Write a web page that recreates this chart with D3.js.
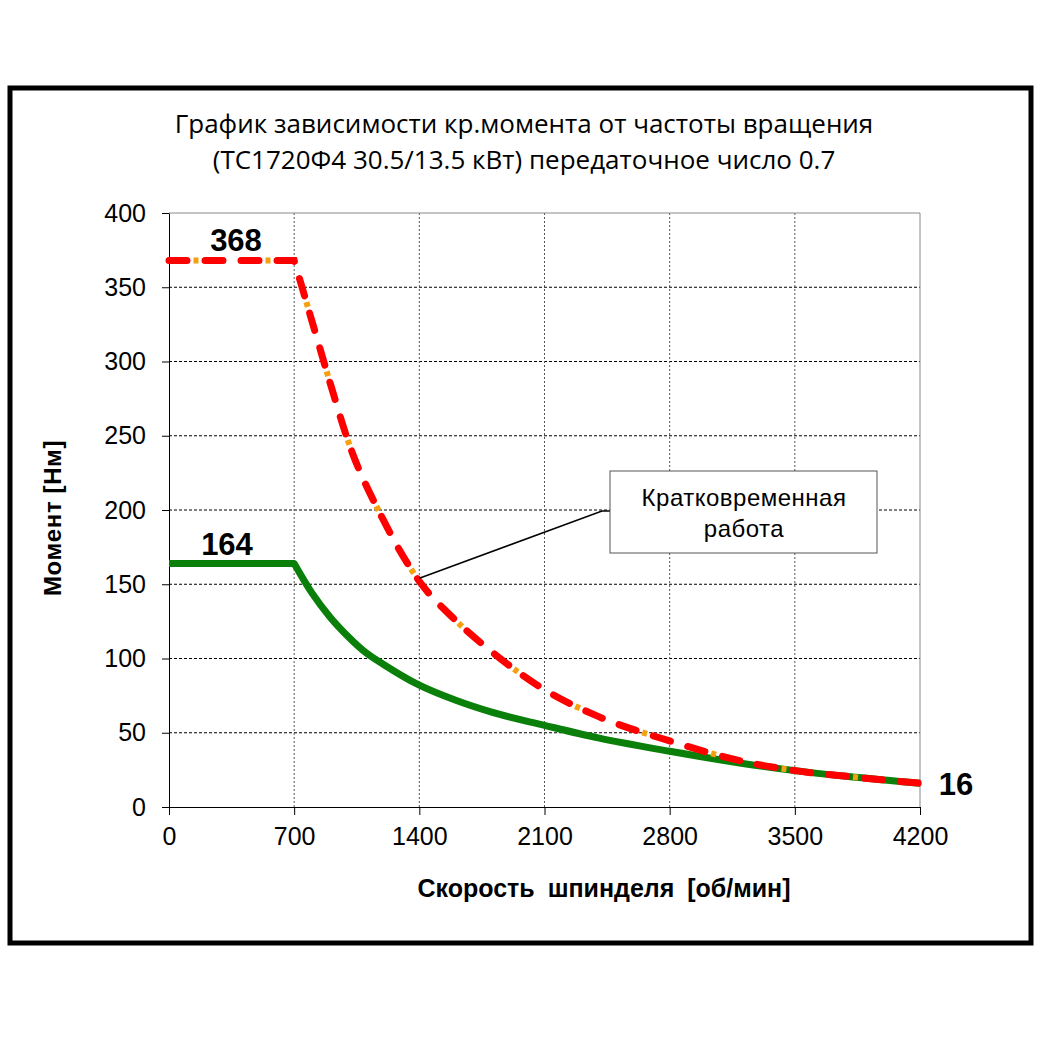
<!DOCTYPE html>
<meta charset="utf-8">
<style>
    body { margin: 0; background: #fff; }
    text { fill: #000; }
    .grid-h line { stroke: #000; stroke-width: 1; stroke-dasharray: 3,2; }
    .grid-v line { stroke: #555; stroke-width: 1; stroke-dasharray: 2,2; }
    .axis text { font-family: "Liberation Sans", Arial, sans-serif; font-size: 25px; }
    .axis path, .axis line { stroke: #000; }
</style>
<body>
<svg width="1040" height="1040"></svg>
<script src="https://d3js.org/d3.v7.min.js"></script>
<script>
    // speed, rpm
    const rpmPeak = [0, 700, 800, 900, 1000, 1200, 1400, 1600, 1800, 2100, 2400, 2800, 3200, 3500, 3800, 4200];
    // short-time torque, Nm (red dashed)
    const torquePeak = [368, 368, 327, 286, 247, 193, 152, 126, 105, 79, 61, 44.5, 31, 24.5, 20.5, 16];
    const rpmCont = [0, 700, 800, 900, 1000, 1100, 1200, 1400, 1600, 1800, 2100, 2400, 2800, 3200, 3500, 3800, 4200];
    // continuous torque, Nm (green)
    const torqueCont = [164, 164, 144, 128, 115, 104, 96, 82, 72, 64, 55, 46.5, 37.5, 29.5, 24.5, 20.5, 16];

    const xTicks = [0, 700, 1400, 2100, 2800, 3500, 4200];
    const yTicks = [0, 50, 100, 150, 200, 250, 300, 350, 400];
    const titleLines = ["График зависимости кр.момента от частоты вращения",
        "(ТС1720Ф4 30.5/13.5 кВт) передаточное число 0.7"];
    const noteLines = ["Кратковременная", "работа"];

    const svg = d3.select("svg");
    const plotL = 169, plotR = 920, plotT = 213, plotB = 807;

    const x = d3.scaleLinear().domain([0, 4200]).range([plotL, plotR]);
    const y = d3.scaleLinear().domain([0, 400]).range([plotB, plotT]);

    // outer frame
    svg.append("rect")
        .attr("x", 10).attr("y", 88).attr("width", 1021).attr("height", 855)
        .attr("fill", "none").attr("stroke", "#000").attr("stroke-width", 5);

    // title
    svg.append("text")
        .attr("x", 524).attr("y", 133)
        .attr("text-anchor", "middle")
        .style("font-family", "'Open Sans', sans-serif")
        .style("font-size", "26px")
        .selectAll("tspan")
        .data(titleLines)
        .join("tspan")
        .attr("x", 524)
        .attr("dy", (d, i) => i ? 36 : 0)
        .text(d => d);

    // grid
    svg.append("g").attr("class", "grid-h")
        .selectAll("line").data(yTicks.filter(d => d > 0 && d < 400)).join("line")
        .attr("x1", plotL).attr("x2", plotR)
        .attr("y1", d => y(d)).attr("y2", d => y(d));
    svg.append("g").attr("class", "grid-v")
        .selectAll("line").data(xTicks.filter(d => d > 0 && d < 4200)).join("line")
        .attr("x1", d => x(d)).attr("x2", d => x(d))
        .attr("y1", plotT).attr("y2", plotB);

    // plot border (top/right grey)
    svg.append("path")
        .attr("d", `M${plotL},${plotT}H${plotR}V${plotB}`)
        .attr("fill", "none").attr("stroke", "#888").attr("stroke-width", 1);

    // axes
    svg.append("g").attr("class", "axis")
        .attr("transform", `translate(0,${plotB})`)
        .call(d3.axisBottom(x).tickValues(xTicks).tickFormat(d3.format("d"))
            .tickSize(8).tickPadding(12).tickSizeOuter(0));
    svg.append("g").attr("class", "axis")
        .attr("transform", `translate(${plotL},0)`)
        .call(d3.axisLeft(y).tickValues(yTicks).tickSize(7).tickPadding(16).tickSizeOuter(0));

    // axis titles
    svg.append("text")
        .attr("x", 604).attr("y", 897)
        .attr("text-anchor", "middle")
        .style("font-family", "'Liberation Sans', Arial, sans-serif")
        .style("font-weight", "bold").style("font-size", "25px")
        .style("word-spacing", "6px")
        .text("Скорость шпинделя [об/мин]");
    svg.append("text")
        .attr("transform", "translate(61,518) rotate(-90)")
        .attr("text-anchor", "middle")
        .style("font-family", "'Liberation Sans', Arial, sans-serif")
        .style("font-weight", "bold").style("font-size", "24px")
        .style("letter-spacing", "0.6px")
        .text("Момент [Нм]");

    // flat part drawn straight, falling part smoothed
    const lineStraight = d3.line().x(d => x(d[0])).y(d => y(d[1]));
    const lineSmooth = d3.line().x(d => x(d[0])).y(d => y(d[1])).curve(d3.curveMonotoneX);
    const pathOf = pts => lineStraight(pts.slice(0, 2)) + lineSmooth(pts.slice(1)).replace(/^M/, "L");

    const cont = rpmCont.map((r, i) => [r, torqueCont[i]]);
    const peak = rpmPeak.map((r, i) => [r, torquePeak[i]]);

    svg.append("path")
        .attr("d", pathOf(cont))
        .attr("fill", "none").attr("stroke", "#0a800a").attr("stroke-width", 7)
        .attr("stroke-linejoin", "round");

    svg.append("path")
        .attr("d", pathOf(peak))
        .attr("fill", "none").attr("stroke", "#f5a00f").attr("stroke-width", 6)
        .attr("stroke-dasharray", "5,67").attr("stroke-dashoffset", -24.5);
    svg.append("path")
        .attr("d", pathOf(peak))
        .attr("fill", "none").attr("stroke", "#f00").attr("stroke-width", 7)
        .attr("stroke-linecap", "round")
        .attr("stroke-dasharray", "18,18");

    // value labels
    const bold = g => g.style("font-family", "'Liberation Sans', Arial, sans-serif")
        .style("font-weight", "bold").style("font-size", "31px");
    svg.append("text").attr("x", 236).attr("y", y(368) - 10)
        .attr("text-anchor", "middle").call(bold).text("368");
    svg.append("text").attr("x", 227).attr("y", y(164) - 8)
        .attr("text-anchor", "middle").call(bold).text("164");
    svg.append("text").attr("x", x(4200) + 36).attr("y", y(16) + 12)
        .attr("text-anchor", "middle").call(bold).text("16");

    // annotation
    svg.append("polyline")
        .attr("points", [[x(1400), y(torquePeak[6]) - 3], [602, 511], [611, 511]].join(" "))
        .attr("fill", "none").attr("stroke", "#000").attr("stroke-width", 1.5);
    svg.append("rect")
        .attr("x", 610).attr("y", 471).attr("width", 267).attr("height", 82)
        .attr("fill", "#fff").attr("stroke", "#555").attr("stroke-width", 1);
    svg.append("text")
        .attr("text-anchor", "middle")
        .style("font-family", "'Liberation Sans', Arial, sans-serif")
        .style("font-size", "24px")
        .style("letter-spacing", "0.5px")
        .selectAll("tspan").data(noteLines).join("tspan")
        .attr("x", 744).attr("y", (d, i) => 506 + i * 31)
        .text(d => d);
</script>
</body>
